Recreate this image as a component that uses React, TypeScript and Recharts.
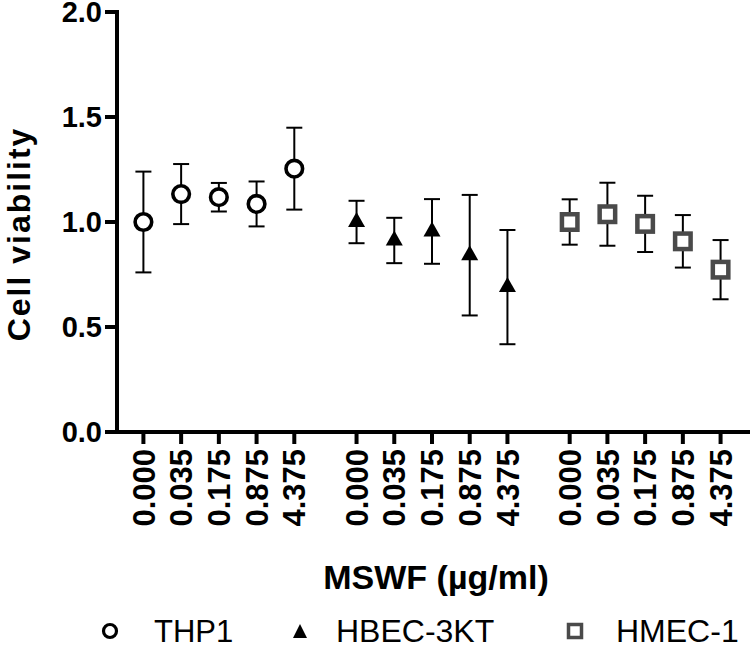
import React from 'react';
import { ScatterChart, Scatter, XAxis, YAxis, ErrorBar, Label } from 'recharts';

// ---- data ----
const doses = ['0.000', '0.035', '0.175', '0.875', '4.375'];
const seriesNames = ['THP1', 'HBEC-3KT', 'HMEC-1'];
const thp1Mean = [1.0, 1.133, 1.118, 1.086, 1.254];
const thp1Err = [0.24, 0.143, 0.068, 0.107, 0.195];
const hbecMean = [1.0, 0.912, 0.955, 0.842, 0.69];
const hbecErr = [0.101, 0.108, 0.154, 0.287, 0.272];
const hmecMean = [1.0, 1.037, 0.991, 0.908, 0.773];
const hmecErr = [0.108, 0.15, 0.134, 0.125, 0.141];
const yTicks = [0, 0.5, 1.0, 1.5, 2.0];

// ---- layout (x positions of the three dose groups on a numeric axis) ----
const GROUP_START = [0.7, 6.35, 12.0];
const X_MAX = 16.78;
const FONT = "'Liberation Sans', Arial, Helvetica, sans-serif";

const build = (means: number[], errs: number[], g: number) =>
  means.map((m, i) => ({ x: GROUP_START[g] + i, y: m, err: errs[i], dose: doses[i] }));

const thp1Data = build(thp1Mean, thp1Err, 0);
const hbecData = build(hbecMean, hbecErr, 1);
const hmecData = build(hmecMean, hmecErr, 2);

const xTicks = GROUP_START.flatMap((s) => doses.map((_, i) => s + i));
const xTickLabels = GROUP_START.flatMap(() => doses);

const labelFor = (v: number) => {
  let best = 0;
  let bd = Infinity;
  xTicks.forEach((t, i) => {
    const d = Math.abs(t - v);
    if (d < bd) {
      bd = d;
      best = i;
    }
  });
  return xTickLabels[best];
};

const XTick = (props: any) => {
  const { x, y, payload } = props;
  return (
    <g transform={`translate(${x},${y})`}>
      <text
        transform="rotate(-90)"
        textAnchor="end"
        dy="0.36em"
        fontSize={31}
        fontWeight="bold"
        fontFamily={FONT}
        fill="#000"
      >
        {labelFor(payload.value)}
      </text>
    </g>
  );
};

const CircleShape = (props: any) => {
  const { cx, cy } = props;
  return <circle cx={cx} cy={cy} r={8.3} fill="#fff" stroke="#000" strokeWidth={3.6} />;
};

const TriangleShape = (props: any) => {
  const { cx, cy } = props;
  const w = 17;
  const h = 15;
  return (
    <path
      d={`M${cx},${cy - (2 * h) / 3} L${cx + w / 2},${cy + h / 3} L${cx - w / 2},${cy + h / 3} Z`}
      fill="#000"
    />
  );
};

const SquareShape = (props: any) => {
  const { cx, cy } = props;
  const s = 15.5;
  return (
    <rect x={cx - s / 2} y={cy - s / 2} width={s} height={s} fill="#fff" stroke="#4a4a4a" strokeWidth={4.5} />
  );
};

const axisLineStyle = { stroke: '#000', strokeWidth: 4, strokeLinecap: 'square' as const };
const tickLineStyle = { stroke: '#000', strokeWidth: 4 };

const Legend = () => (
  <svg
    width={750}
    height={648}
    style={{ position: 'absolute', left: 0, top: 0, pointerEvents: 'none' }}
  >
    <circle cx={110} cy={631} r={6.5} fill="#fff" stroke="#000" strokeWidth={3.2} />
    <text x={154} y={642} fontSize={31} fontFamily={FONT} fill="#000">
      {seriesNames[0]}
    </text>
    <path d="M300,624 L307,638 L293,638 Z" fill="#000" />
    <text x={336} y={642} fontSize={32} fontFamily={FONT} fill="#000">
      {seriesNames[1]}
    </text>
    <rect x={568.5} y={624.5} width={13} height={13} fill="#fff" stroke="#4a4a4a" strokeWidth={3.5} />
    <text x={616} y={642} fontSize={32} fontFamily={FONT} fill="#000">
      {seriesNames[2]}
    </text>
  </svg>
);

export default function App() {
  return (
    <div style={{ position: 'relative', width: 750, height: 648, background: '#fff' }}>
      <style>{'body{margin:0;background:#fff}'}</style>
      <ScatterChart width={750} height={648} margin={{ top: 12, right: 0, bottom: 0, left: 0 }}>
        <XAxis
          type="number"
          dataKey="x"
          domain={[0, X_MAX]}
          ticks={xTicks}
          interval={0}
          allowDataOverflow
          height={216}
          tickSize={12}
          tickMargin={5}
          axisLine={axisLineStyle}
          tickLine={tickLineStyle}
          tick={<XTick />}
        >
          <Label
            content={() => (
              <text
                x={436}
                y={589}
                textAnchor="middle"
                fontSize={34}
                fontWeight="bold"
                fontFamily={FONT}
                fill="#000"
              >
                MSWF (µg/ml)
              </text>
            )}
          />
        </XAxis>
        <YAxis
          type="number"
          dataKey="y"
          domain={[0, 2]}
          ticks={yTicks}
          interval={0}
          width={117}
          tickSize={12}
          tickMargin={3}
          axisLine={axisLineStyle}
          tickLine={tickLineStyle}
          tickFormatter={(v: number) => v.toFixed(1)}
          tick={{ fontSize: 29, fontWeight: 'bold', fontFamily: FONT, fill: '#000' }}
        >
          <Label
            content={() => (
              <text
                x={30}
                y={234}
                transform="rotate(-90, 30, 234)"
                textAnchor="middle"
                fontSize={32}
                fontWeight="bold"
                letterSpacing={2}
                fontFamily={FONT}
                fill="#000"
              >
                Cell viability
              </text>
            )}
          />
        </YAxis>
        <Scatter name={seriesNames[0]} data={thp1Data} shape={<CircleShape />} isAnimationActive={false}>
          <ErrorBar dataKey="err" width={8} stroke="#000" strokeWidth={2} direction="y" />
        </Scatter>
        <Scatter name={seriesNames[1]} data={hbecData} shape={<TriangleShape />} isAnimationActive={false}>
          <ErrorBar dataKey="err" width={8} stroke="#000" strokeWidth={2} direction="y" />
        </Scatter>
        <Scatter name={seriesNames[2]} data={hmecData} shape={<SquareShape />} isAnimationActive={false}>
          <ErrorBar dataKey="err" width={8} stroke="#000" strokeWidth={2} direction="y" />
        </Scatter>
      </ScatterChart>
      <Legend />
    </div>
  );
}
